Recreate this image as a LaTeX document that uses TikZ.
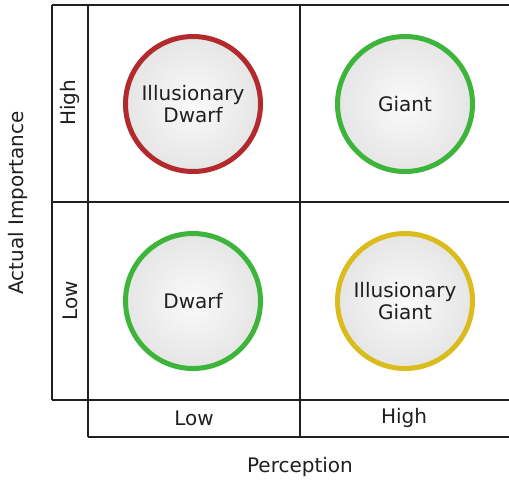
\documentclass[tikz,border=0pt]{standalone}
\usepackage{fontspec}
\setmainfont{DejaVu Sans}
\usetikzlibrary{shadows}
\definecolor{ringred}{HTML}{B32A2C}
\definecolor{ringgreen}{HTML}{3DB53A}
\definecolor{ringyellow}{HTML}{DBBC1E}
\definecolor{gridline}{HTML}{202020}
\begin{document}
\begin{tikzpicture}[x=1pt,y=-1pt,
  gridln/.style={draw=gridline,line width=1.3pt},
  lbl/.style={font=\fontsize{20}{22}\selectfont,text=black!88,inner sep=0pt},
  bubble/.style={circle,minimum size=135pt,inner sep=0pt,line width=5pt,
    inner color=white!96!gray,outer color=gray!20,align=center,
    font=\fontsize{20}{22}\selectfont,text=black!88,
    drop shadow={shadow xshift=1.5pt,shadow yshift=-1.5pt,opacity=0.2}},
]
\useasboundingbox (0,0) rectangle (509,483);
% grid
\draw[gridln] (52,5) -- (509,5);
\draw[gridln] (52,202) -- (509,202);
\draw[gridln] (52,400) -- (509,400);
\draw[gridln] (88,437) -- (509,437);
\draw[gridln] (52,5) -- (52,400);
\draw[gridln] (88,5) -- (88,437);
\draw[gridln] (300,5) -- (300,437);
% bubbles
\node[bubble,draw=ringred] (idwarf) at (193,104) {Illusionary\\Dwarf};
\node[bubble,draw=ringgreen] (giant) at (405,104) {Giant};
\node[bubble,draw=ringgreen] (dwarf) at (193,301) {Dwarf};
\node[bubble,draw=ringyellow] (igiant) at (405,301) {Illusionary\\Giant};
% labels
\node[lbl,rotate=90] (yhigh) at (70,103) {High};
\node[lbl,rotate=90] (ylow) at (70,301) {Low};
\node[lbl] (xlow) at (194,418) {Low};
\node[lbl] (xhigh) at (404,418) {High};
\node[lbl,rotate=90] (ytitle) at (18,203) {Actual Importance};
\node[lbl] (xtitle) at (300,467) {Perception};
\end{tikzpicture}
\end{document}
